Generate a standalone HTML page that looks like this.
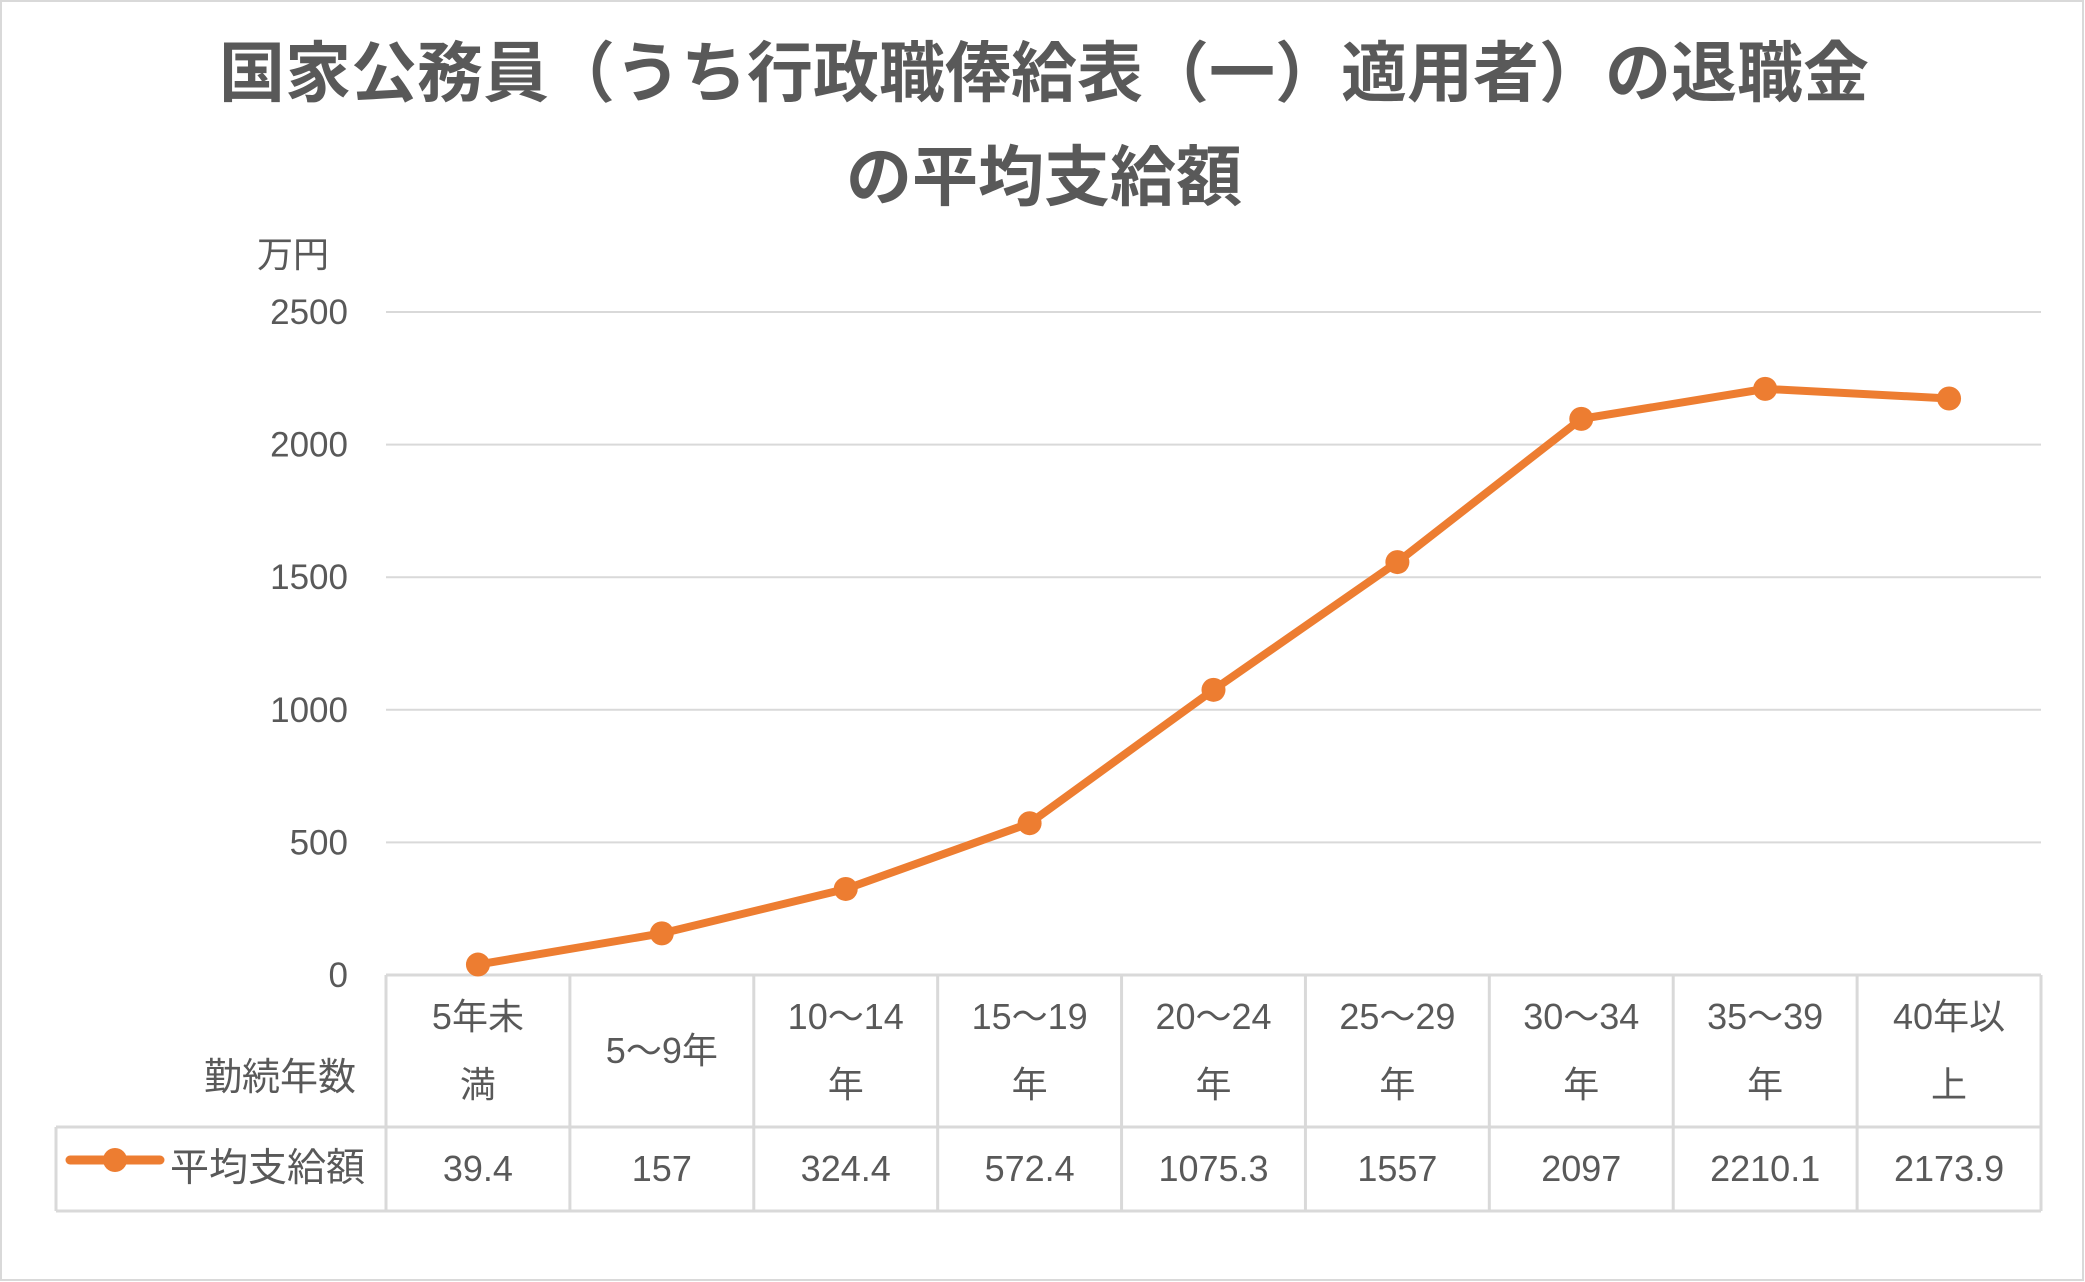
<!DOCTYPE html>
<html><head><meta charset="utf-8"><style>
html,body{margin:0;padding:0;background:#fff}
svg{display:block}
text{font-family:"Liberation Sans","Noto Sans CJK JP",sans-serif;fill:#595959}
</style></head><body>
<svg id="c" width="2085" height="1282" viewBox="0 0 2085 1282" xmlns="http://www.w3.org/2000/svg">
<rect x="1" y="1" width="2082" height="1279" fill="#fff" stroke="#d9d9d9" stroke-width="2"/>
<text x="1044" y="96" font-size="66" font-weight="bold" text-anchor="middle">国家公務員（うち行政職俸給表（一）適用者）の退職金</text>
<text x="1044" y="200" font-size="66" font-weight="bold" text-anchor="middle">の平均支給額</text>
<text x="293" y="267" font-size="36" text-anchor="middle">万円</text>
<g id="grid"></g><g id="table"></g><g id="series"></g>
</svg>
<script>
const categoriesL1 = ["5年未","5～9年","10～14","15～19","20～24","25～29","30～34","35～39","40年以"];
const categoriesL2 = ["満","","年","年","年","年","年","年","上"];
const values = [39.4,157,324.4,572.4,1075.3,1557,2097,2210.1,2173.9];
const valueLabels = ["39.4","157","324.4","572.4","1075.3","1557","2097","2210.1","2173.9"];
const yTicks = [0,500,1000,1500,2000,2500];
const NS="http://www.w3.org/2000/svg";
const X0=386,X1=2041,Y0=975,Y1=312,YMAX=2500;
const cw=(X1-X0)/categoriesL1.length;
const xs=i=>X0+cw*(i+0.5);
const ys=v=>Y0-(v/YMAX)*(Y0-Y1);
function mk(p,tag,attrs,txt){const e=document.createElementNS(NS,tag);for(const k in attrs)e.setAttribute(k,attrs[k]);if(txt!==undefined)e.textContent=txt;p.appendChild(e);return e;}
const grid=document.getElementById('grid');
yTicks.forEach(t=>{
  if(t>0){const l=mk(grid,'line',{x1:X0,x2:X1,y1:ys(t),y2:ys(t),stroke:'#d9d9d9','stroke-width':2});
  
  }
  const tx=mk(grid,'text',{x:348,y:ys(t)+12,'font-size':35,'text-anchor':'end'},String(t));
  
  
});
const tb=document.getElementById('table');
const TY0=975,TY1=1127,TY2=1211,LX=56;
const st={stroke:'#d9d9d9','stroke-width':3,fill:'none'};
let a=mk(tb,'line',Object.assign({x1:X0,x2:X1,y1:TY0,y2:TY0},st));


let b=mk(tb,'line',Object.assign({x1:LX,x2:X1,y1:TY1,y2:TY1},st));


let c=mk(tb,'line',Object.assign({x1:LX,x2:X1,y1:TY2,y2:TY2},st));


let d=mk(tb,'line',Object.assign({x1:LX,x2:LX,y1:TY1,y2:TY2},st));


for(let i=0;i<=categoriesL1.length;i++){
  const x=X0+cw*i;
  const v=mk(tb,'line',Object.assign({x1:x,x2:x,y1:TY0,y2:TY2},st));
  
  
}
categoriesL1.forEach((cat,i)=>{
  const g=mk(tb,'g',{});
  
  
  if(categoriesL2[i]){
    mk(g,'text',{x:xs(i),y:1029,'font-size':36,'text-anchor':'middle'},cat);
    mk(g,'text',{x:xs(i),y:1097,'font-size':36,'text-anchor':'middle'},categoriesL2[i]);
  } else mk(g,'text',{x:xs(i),y:1063,'font-size':36,'text-anchor':'middle'},cat);
  const t=mk(tb,'text',{x:xs(i),y:1181,'font-size':36,'text-anchor':'middle'},valueLabels[i]);
  
  
});
const ax=mk(tb,'text',{x:356,y:1090,'font-size':38,'text-anchor':'end'},'勤続年数');


const lg=mk(tb,'g',{});


mk(lg,'line',{x1:70,x2:160,y1:1160,y2:1160,stroke:'#ed7d31','stroke-width':9,'stroke-linecap':'round'});
mk(lg,'circle',{cx:115,cy:1160,r:12,fill:'#ed7d31'});
mk(lg,'text',{x:170,y:1181,'font-size':39},'平均支給額');
const se=document.getElementById('series');
const pl=mk(se,'polyline',{points:values.map((v,i)=>xs(i)+','+ys(v)).join(' '),fill:'none',stroke:'#ed7d31','stroke-width':8,'stroke-linejoin':'round','stroke-linecap':'round'});


values.forEach((v,i)=>{
  const p=mk(se,'circle',{cx:xs(i),cy:ys(v),r:12,fill:'#ed7d31'});
  
  
});
</script>
</body></html>
